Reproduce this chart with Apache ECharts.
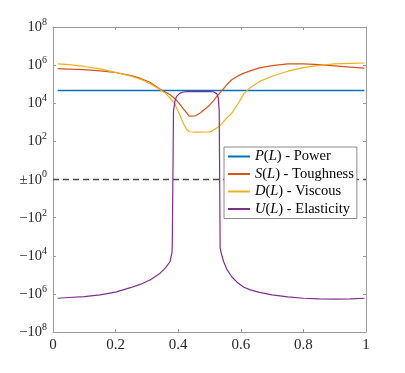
<!DOCTYPE html>
<html>
<head>
<meta charset="utf-8">
<script src="https://cdn.jsdelivr.net/npm/echarts@6/dist/echarts.min.js"></script>
<style>
html, body { margin: 0; padding: 0; background: #fff; }
#chart { width: 405px; height: 373px; }
</style>
</head>
<body>
<div id="chart"></div>
<script>
// L values (x axis)
var lengths = [0.015, 0.05, 0.1, 0.15, 0.2, 0.25, 0.28, 0.31, 0.34, 0.36, 0.374, 0.38, 0.381, 0.385, 0.39,
	0.395, 0.405, 0.416, 0.427, 0.435, 0.441, 0.455, 0.47, 0.486, 0.5, 0.512, 0.523, 0.528, 0.531, 0.534,
	0.538, 0.545, 0.555, 0.571, 0.592, 0.61, 0.63, 0.66, 0.7, 0.75, 0.8, 0.85, 0.9, 0.95, 0.995];

// P(L) is flat
var powerLevel = 4.7e4;

var toughness = [6.5e5, 6.2e5, 5.8e5, 5.0e5, 4.1e5, 2.8e5, 2.0e5, 1.26e5, 5.8e4, 3.8e4, 2.8e4, 2.4e4, 2.3e4, 2.0e4, 1.74e4,
	1.4e4, 8.9e3, 5.2e3, 3.1e3, 2.1e3, 1.66e3, 2.2e3, 3.1e3, 5.0e3, 7.9e3, 1.3e4, 2.2e4, 2.8e4, 3.2e4, 3.6e4,
	4.3e4, 5.9e4, 9.3e4, 1.7e5, 2.8e5, 3.8e5, 5.0e5, 7.2e5, 9.5e5, 1.15e6, 1.15e6, 1.05e6, 9.1e5, 7.9e5, 6.9e5];

var viscous = [1.15e6, 1.05e6, 8.5e5, 6.3e5, 4.2e5, 2.6e5, 1.8e5, 1.07e5, 5.4e4, 3.2e4, 1.86e4, 1.5e4, 1.4e4, 1.1e4, 8.5e3,
	5.6e3, 2.4e3, 910, 420, 320, 310, 308, 308, 310, 315, 380, 500, 575, 630, 690,
	800, 1.1e3, 1.66e3, 3.0e3, 1.0e4, 3.2e4, 6.6e4, 1.4e5, 2.6e5, 4.8e5, 7.4e5, 9.8e5, 1.15e6, 1.23e6, 1.29e6];

var elasticity = [-1.7e6, -1.55e6, -1.38e6, -1.12e6, -8.1e5, -4.6e5, -3.1e5, -1.86e5, -8.9e4, -4.2e4, -2.0e4, -7.1e3, -3.2e3, 4.0e3, 1.4e4,
	2.3e4, 3.3e4, 3.9e4, 4.1e4, 4.1e4, 4.1e4, 4.1e4, 4.1e4, 4.1e4, 4.1e4, 4.0e4, 3.2e4, 2.0e4, 4.0e3, -4.0e3,
	-7.9e3, -2.0e4, -5.0e4, -1.26e5, -2.8e5, -4.5e5, -6.2e5, -8.3e5, -1.12e6, -1.45e6, -1.7e6, -1.82e6, -1.9e6, -1.82e6, -1.7e6];

var yTicks = [-8, -6, -4, -2, 0, 2, 4, 6, 8];
var xTicks = [0, 0.2, 0.4, 0.6, 0.8, 1];

var names = ["P(L) - Power", "S(L) - Toughness", "D(L) - Viscous", "U(L) - Elasticity"];
var colors = ["#0072BD", "#D95319", "#EDB120", "#7E2F8E"];

// symmetric log: +-10^k -> +-k
function symlog(v) {
	if (v === 0) return 0;
	var t = Math.max(0, Math.log10(Math.abs(v)));
	return v < 0 ? -t : t;
}

function pairs(vals) {
	return lengths.map(function (x, i) {
		return [x, symlog(vals[i])];
	});
}

var serif = "Liberation Serif";
var axisGray = "#9a9a9a";

function lineSeries(name, vals, color, width) {
	return {
		name: name,
		type: "line",
		data: pairs(vals),
		symbol: "none",
		lineStyle: { color: color, width: width },
		itemStyle: { color: color },
		z: 3,
	};
}

function boxAxis(pos) {
	return {
		type: "value",
		position: pos,
		axisLine: { show: true, onZero: false, lineStyle: { color: axisGray, width: 1 } },
		axisTick: { show: true, inside: true, length: 3, lineStyle: { color: axisGray } },
		axisLabel: { show: false },
		splitLine: { show: false },
	};
}

var topAxis = Object.assign(boxAxis("top"), { min: 0, max: 1, interval: 0.2 });
var rightAxis = Object.assign(boxAxis("right"), { min: -8, max: 8, interval: 2 });

var myChart = echarts.init(document.getElementById("chart"));
var option = {
	animation: false,
	backgroundColor: "#fff",
	grid: { left: 53, right: 39, top: 27, bottom: 41, containLabel: false },
	xAxis: [
		{
			type: "value",
			min: 0,
			max: 1,
			interval: 0.2,
			axisLine: { onZero: false, lineStyle: { color: axisGray, width: 1 } },
			axisTick: { inside: true, length: 3, lineStyle: { color: axisGray } },
			axisLabel: {
				margin: 6,
				fontFamily: serif,
				fontSize: 15,
				color: "#262626",
				formatter: function (v) {
					return xTicks.indexOf(+v.toFixed(1)) >= 0 ? String(+v.toFixed(1)) : "";
				},
			},
			splitLine: { show: false },
		},
		topAxis,
	],
	yAxis: [
		{
			type: "value",
			min: -8,
			max: 8,
			interval: 2,
			axisLine: { show: true, onZero: false, lineStyle: { color: axisGray, width: 1 } },
			axisTick: { show: true, inside: true, length: 3, lineStyle: { color: axisGray } },
			axisLabel: {
				margin: 6,
				padding: [0, 0, 2, 0],
				color: "#262626",
				formatter: function (v) {
					if (yTicks.indexOf(v) < 0) return "";
					if (v === 0) return "{n|\u00b110}{s|0}";
					if (v < 0) return "{n|\u221210}{s|" + -v + "}";
					return "{n|10}{s|" + v + "}";
				},
				rich: {
					n: { fontFamily: serif, fontSize: 14.5, color: "#262626", lineHeight: 17.5, verticalAlign: "bottom" },
					s: { fontFamily: serif, fontSize: 10, color: "#262626", lineHeight: 17.5, verticalAlign: "top" },
				},
			},
			splitLine: { show: false },
		},
		rightAxis,
	],
	legend: {
		data: names,
		orient: "vertical",
		left: 224,
		top: 147,
		padding: [2, 3, 2, 4],
		itemGap: 2.5,
		itemWidth: 22,
		itemHeight: 2,
		icon: "rect",
		backgroundColor: "#fff",
		borderColor: "#8a8a8a",
		borderWidth: 1,
		borderRadius: 0,
		textStyle: {
			fontFamily: serif,
			fontSize: 14.5,
			color: "#000",
			lineHeight: 14,
			rich: { i: { fontFamily: serif, fontSize: 14.5, fontStyle: "italic", color: "#000" } },
		},
		formatter: function (name) {
			var parts = name.split("(L)");
			return "{i|" + parts[0] + "}({i|L})" + parts[1];
		},
		z: 10,
	},
	series: [
		{
			name: "zero",
			type: "line",
			data: [[0, 0], [1, 0]],
			symbol: "none",
			lineStyle: { color: "#4a4a4a", width: 1.3, type: [6, 4] },
			z: 2,
			silent: true,
		},
		{
			name: names[0],
			type: "line",
			data: lengths.map(function (x) { return [x, symlog(powerLevel)]; }),
			symbol: "none",
			lineStyle: { color: colors[0], width: 1.5 },
			itemStyle: { color: colors[0] },
			z: 3,
		},
		lineSeries(names[1], toughness, colors[1], 1.2),
		lineSeries(names[2], viscous, colors[2], 1.2),
		lineSeries(names[3], elasticity, colors[3], 1.2),
	],
};
myChart.setOption(option);
</script>
</body>
</html>
